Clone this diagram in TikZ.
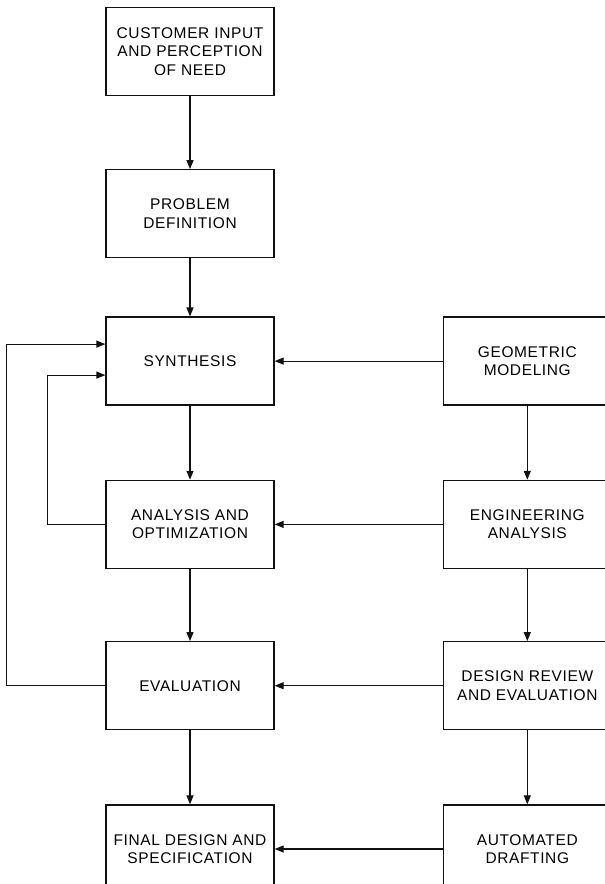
\documentclass[tikz,border=0pt]{standalone}
\usepackage{fontspec}
\setmainfont{Liberation Sans}[LetterSpace=4]
\usepackage{xcolor}
\usepackage{tikz}
\usetikzlibrary{positioning,arrows.meta,calc}
\definecolor{ink}{HTML}{111111}
\tikzset{
  box/.style={rectangle,draw=ink,line width=1.3pt,fill=white,align=center,
    minimum width=168pt,minimum height=88pt,inner sep=2pt,
    font=\fontsize{15.5}{18.5}\selectfont},
  fl/.style={-{Triangle[length=9pt,width=7pt]},draw=ink,line width=1.2pt},
}

\begin{document}
\begin{tikzpicture}[x=1pt,y=-1pt]
  \path[use as bounding box,clip] (0,0) rectangle (605,884);
  \node[box] (cust) at (190,51.5) {CUSTOMER INPUT\\AND PERCEPTION\\OF NEED};
  \node[box,below=73pt of cust] (prob) {PROBLEM\\DEFINITION};
  \node[box,below=58pt of prob] (syn) {SYNTHESIS};
  \node[box,below=74pt of syn] (ana) {ANALYSIS AND\\OPTIMIZATION};
  \node[box,below=72pt of ana] (eval) {EVALUATION};
  \node[box,below=74pt of eval] (fin) {FINAL DESIGN AND\\SPECIFICATION};
  \node[box,right=168pt of syn] (geo) {GEOMETRIC\\MODELING};
  \node[box,right=168pt of ana] (eng) {ENGINEERING\\ANALYSIS};
  \node[box,right=168pt of eval] (rev) {DESIGN REVIEW\\AND EVALUATION};
  \node[box,right=168pt of fin] (draft) {AUTOMATED\\DRAFTING};
  \draw[fl] (cust)--(prob); \draw[fl] (prob)--(syn); \draw[fl] (syn)--(ana);
  \draw[fl] (ana)--(eval); \draw[fl] (eval)--(fin);
  \draw[fl] (geo)--(eng); \draw[fl] (eng)--(rev); \draw[fl] (rev)--(draft);
  \draw[fl] (geo)--(syn); \draw[fl] (eng)--(ana); \draw[fl] (rev)--(eval); \draw[fl] (draft)--(fin);
  % feedback loops
  \draw[fl] (ana.west) -- ++(-58,0) |- ([yshift=-14pt]syn.west);
  \draw[fl] (eval.west) -- ++(-99,0) |- ([yshift=17pt]syn.west);
\end{tikzpicture}
\end{document}
